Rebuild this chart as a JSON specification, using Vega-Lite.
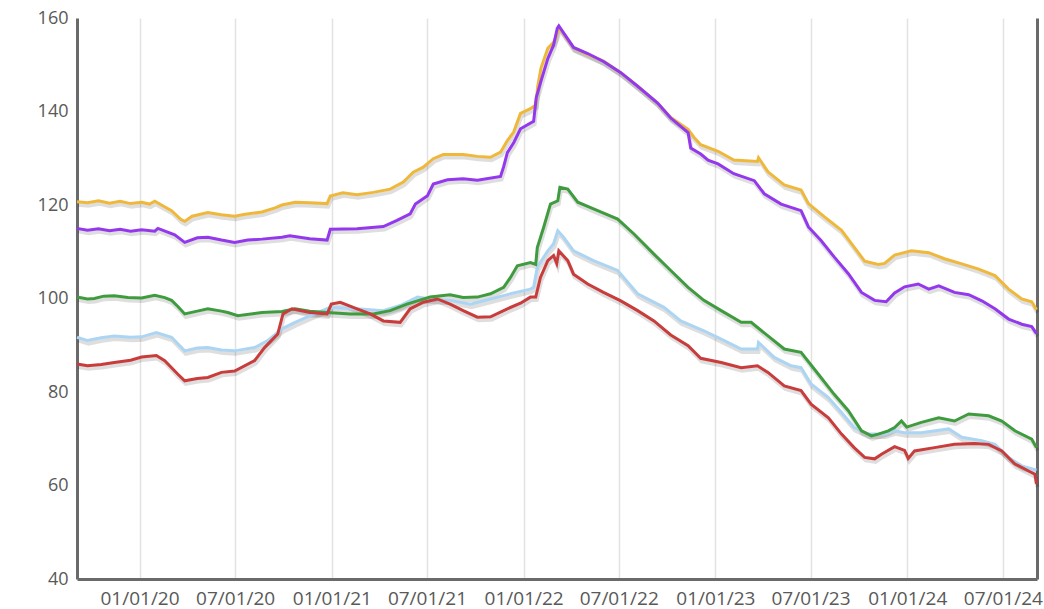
{
  "$schema": "https://vega.github.io/schema/vega-lite/v6.json",
  "width": 960,
  "height": 561,
  "autosize": {"type": "none"},
  "padding": {"left": 77, "top": 18, "right": 7, "bottom": 30},
  "background": "white",
  "config": {
    "view": {"stroke": null},
    "axis": {
      "labelFont": "Open Sans",
      "labelFontSize": 18,
      "labelColor": "#595959",
      "ticks": false,
      "title": null,
      "gridColor": "#e2e2e2",
      "gridWidth": 1.5,
      "domainColor": "#6a6a6a",
      "domainWidth": 3
    }
  },
  "data": {
    "values": [
      {"series": "A", "date": "2019-09-04", "value": 120.7},
      {"series": "A", "date": "2019-09-24", "value": 120.5},
      {"series": "A", "date": "2019-10-15", "value": 120.9},
      {"series": "A", "date": "2019-11-05", "value": 120.4},
      {"series": "A", "date": "2019-11-25", "value": 120.8},
      {"series": "A", "date": "2019-12-15", "value": 120.3},
      {"series": "A", "date": "2020-01-05", "value": 120.6},
      {"series": "A", "date": "2020-01-20", "value": 120.2},
      {"series": "A", "date": "2020-01-30", "value": 120.8},
      {"series": "A", "date": "2020-02-10", "value": 120.1},
      {"series": "A", "date": "2020-03-02", "value": 118.8},
      {"series": "A", "date": "2020-03-20", "value": 116.9},
      {"series": "A", "date": "2020-03-27", "value": 116.5},
      {"series": "A", "date": "2020-04-10", "value": 117.6},
      {"series": "A", "date": "2020-05-10", "value": 118.4},
      {"series": "A", "date": "2020-06-05", "value": 117.9},
      {"series": "A", "date": "2020-06-30", "value": 117.6},
      {"series": "A", "date": "2020-07-20", "value": 118.0},
      {"series": "A", "date": "2020-08-21", "value": 118.5},
      {"series": "A", "date": "2020-09-15", "value": 119.4},
      {"series": "A", "date": "2020-09-28", "value": 120.0},
      {"series": "A", "date": "2020-10-23", "value": 120.6},
      {"series": "A", "date": "2020-11-20", "value": 120.5},
      {"series": "A", "date": "2020-12-23", "value": 120.3},
      {"series": "A", "date": "2020-12-29", "value": 121.9},
      {"series": "A", "date": "2021-01-22", "value": 122.6},
      {"series": "A", "date": "2021-02-18", "value": 122.2},
      {"series": "A", "date": "2021-03-21", "value": 122.7},
      {"series": "A", "date": "2021-04-22", "value": 123.4},
      {"series": "A", "date": "2021-05-17", "value": 124.9},
      {"series": "A", "date": "2021-06-05", "value": 127.0},
      {"series": "A", "date": "2021-06-24", "value": 128.1},
      {"series": "A", "date": "2021-07-13", "value": 129.9},
      {"series": "A", "date": "2021-08-01", "value": 130.8},
      {"series": "A", "date": "2021-09-08", "value": 130.8},
      {"series": "A", "date": "2021-10-05", "value": 130.4},
      {"series": "A", "date": "2021-10-30", "value": 130.2},
      {"series": "A", "date": "2021-11-18", "value": 131.3},
      {"series": "A", "date": "2021-12-01", "value": 133.8},
      {"series": "A", "date": "2021-12-13", "value": 135.6},
      {"series": "A", "date": "2021-12-26", "value": 139.6},
      {"series": "A", "date": "2022-01-14", "value": 140.6},
      {"series": "A", "date": "2022-01-24", "value": 141.4},
      {"series": "A", "date": "2022-01-28", "value": 145.5},
      {"series": "A", "date": "2022-02-03", "value": 149.3},
      {"series": "A", "date": "2022-02-16", "value": 153.5},
      {"series": "A", "date": "2022-02-27", "value": 154.8},
      {"series": "A", "date": "2022-03-04", "value": 156.0},
      {"series": "A", "date": "2022-03-09", "value": 158.1},
      {"series": "A", "date": "2022-04-06", "value": 153.6},
      {"series": "A", "date": "2022-05-03", "value": 152.2},
      {"series": "A", "date": "2022-06-02", "value": 150.8},
      {"series": "A", "date": "2022-07-05", "value": 148.3},
      {"series": "A", "date": "2022-08-06", "value": 145.4},
      {"series": "A", "date": "2022-09-13", "value": 141.8},
      {"series": "A", "date": "2022-10-08", "value": 138.7},
      {"series": "A", "date": "2022-11-10", "value": 136.2},
      {"series": "A", "date": "2022-11-21", "value": 134.5},
      {"series": "A", "date": "2022-12-04", "value": 132.9},
      {"series": "A", "date": "2023-01-06", "value": 131.5},
      {"series": "A", "date": "2023-02-05", "value": 129.6},
      {"series": "A", "date": "2023-03-22", "value": 129.3},
      {"series": "A", "date": "2023-03-24", "value": 130.1},
      {"series": "A", "date": "2023-04-11", "value": 127.1},
      {"series": "A", "date": "2023-05-12", "value": 124.3},
      {"series": "A", "date": "2023-06-13", "value": 123.2},
      {"series": "A", "date": "2023-06-27", "value": 120.3},
      {"series": "A", "date": "2023-07-27", "value": 117.5},
      {"series": "A", "date": "2023-08-29", "value": 114.6},
      {"series": "A", "date": "2023-09-22", "value": 111.0},
      {"series": "A", "date": "2023-10-12", "value": 108.0},
      {"series": "A", "date": "2023-11-07", "value": 107.3},
      {"series": "A", "date": "2023-11-19", "value": 107.5},
      {"series": "A", "date": "2023-12-08", "value": 109.3},
      {"series": "A", "date": "2024-01-09", "value": 110.2},
      {"series": "A", "date": "2024-02-11", "value": 109.8},
      {"series": "A", "date": "2024-03-12", "value": 108.5},
      {"series": "A", "date": "2024-04-14", "value": 107.4},
      {"series": "A", "date": "2024-05-16", "value": 106.3},
      {"series": "A", "date": "2024-06-16", "value": 104.9},
      {"series": "A", "date": "2024-07-12", "value": 102.0},
      {"series": "A", "date": "2024-08-06", "value": 99.9},
      {"series": "A", "date": "2024-08-25", "value": 99.3},
      {"series": "A", "date": "2024-09-03", "value": 97.6},

      {"series": "B", "date": "2019-09-04", "value": 91.7},
      {"series": "B", "date": "2019-09-24", "value": 91.0},
      {"series": "B", "date": "2019-10-20", "value": 91.6},
      {"series": "B", "date": "2019-11-14", "value": 92.0},
      {"series": "B", "date": "2019-12-15", "value": 91.7},
      {"series": "B", "date": "2020-01-05", "value": 91.8},
      {"series": "B", "date": "2020-02-02", "value": 92.7},
      {"series": "B", "date": "2020-03-02", "value": 91.7},
      {"series": "B", "date": "2020-03-27", "value": 88.8},
      {"series": "B", "date": "2020-04-20", "value": 89.4},
      {"series": "B", "date": "2020-05-10", "value": 89.5},
      {"series": "B", "date": "2020-06-05", "value": 89.0},
      {"series": "B", "date": "2020-06-30", "value": 88.8},
      {"series": "B", "date": "2020-08-07", "value": 89.5},
      {"series": "B", "date": "2020-09-01", "value": 91.0},
      {"series": "B", "date": "2020-09-28", "value": 93.5},
      {"series": "B", "date": "2020-10-23", "value": 94.9},
      {"series": "B", "date": "2020-11-20", "value": 96.3},
      {"series": "B", "date": "2020-12-29", "value": 98.1},
      {"series": "B", "date": "2021-02-18", "value": 97.8},
      {"series": "B", "date": "2021-04-09", "value": 97.4},
      {"series": "B", "date": "2021-05-11", "value": 98.5},
      {"series": "B", "date": "2021-06-13", "value": 100.3},
      {"series": "B", "date": "2021-07-07", "value": 99.9},
      {"series": "B", "date": "2021-08-14", "value": 99.6},
      {"series": "B", "date": "2021-09-22", "value": 98.8},
      {"series": "B", "date": "2021-10-30", "value": 99.9},
      {"series": "B", "date": "2021-12-07", "value": 101.0},
      {"series": "B", "date": "2022-01-14", "value": 102.0},
      {"series": "B", "date": "2022-01-20", "value": 102.4},
      {"series": "B", "date": "2022-01-27", "value": 106.7},
      {"series": "B", "date": "2022-02-16", "value": 110.2},
      {"series": "B", "date": "2022-02-27", "value": 111.7},
      {"series": "B", "date": "2022-03-07", "value": 114.5},
      {"series": "B", "date": "2022-03-18", "value": 113.1},
      {"series": "B", "date": "2022-04-06", "value": 110.2},
      {"series": "B", "date": "2022-05-14", "value": 108.1},
      {"series": "B", "date": "2022-06-29", "value": 106.0},
      {"series": "B", "date": "2022-08-06", "value": 101.0},
      {"series": "B", "date": "2022-09-25", "value": 98.1},
      {"series": "B", "date": "2022-10-27", "value": 95.2},
      {"series": "B", "date": "2022-12-10", "value": 93.1},
      {"series": "B", "date": "2023-01-12", "value": 91.3},
      {"series": "B", "date": "2023-02-19", "value": 89.2},
      {"series": "B", "date": "2023-03-22", "value": 89.2},
      {"series": "B", "date": "2023-03-24", "value": 90.6},
      {"series": "B", "date": "2023-04-23", "value": 87.4},
      {"series": "B", "date": "2023-05-25", "value": 85.6},
      {"series": "B", "date": "2023-06-13", "value": 85.2},
      {"series": "B", "date": "2023-07-02", "value": 81.7},
      {"series": "B", "date": "2023-08-04", "value": 78.8},
      {"series": "B", "date": "2023-08-29", "value": 75.6},
      {"series": "B", "date": "2023-09-22", "value": 72.4},
      {"series": "B", "date": "2023-10-19", "value": 71.0},
      {"series": "B", "date": "2023-11-19", "value": 71.0},
      {"series": "B", "date": "2023-12-08", "value": 71.7},
      {"series": "B", "date": "2023-12-27", "value": 71.3},
      {"series": "B", "date": "2024-01-28", "value": 71.3},
      {"series": "B", "date": "2024-03-20", "value": 72.1},
      {"series": "B", "date": "2024-04-14", "value": 70.3},
      {"series": "B", "date": "2024-05-22", "value": 69.6},
      {"series": "B", "date": "2024-06-16", "value": 68.8},
      {"series": "B", "date": "2024-07-12", "value": 66.0},
      {"series": "B", "date": "2024-08-06", "value": 64.2},
      {"series": "B", "date": "2024-09-03", "value": 63.3},

      {"series": "C", "date": "2019-09-04", "value": 100.3},
      {"series": "C", "date": "2019-09-24", "value": 99.9},
      {"series": "C", "date": "2019-10-07", "value": 100.0},
      {"series": "C", "date": "2019-10-25", "value": 100.5},
      {"series": "C", "date": "2019-11-14", "value": 100.6},
      {"series": "C", "date": "2019-12-10", "value": 100.2},
      {"series": "C", "date": "2020-01-05", "value": 100.1},
      {"series": "C", "date": "2020-01-30", "value": 100.7},
      {"series": "C", "date": "2020-02-18", "value": 100.2},
      {"series": "C", "date": "2020-03-02", "value": 99.6},
      {"series": "C", "date": "2020-03-14", "value": 98.3},
      {"series": "C", "date": "2020-03-27", "value": 96.7},
      {"series": "C", "date": "2020-04-20", "value": 97.3},
      {"series": "C", "date": "2020-05-10", "value": 97.8},
      {"series": "C", "date": "2020-06-05", "value": 97.3},
      {"series": "C", "date": "2020-06-17", "value": 97.0},
      {"series": "C", "date": "2020-07-06", "value": 96.3},
      {"series": "C", "date": "2020-08-07", "value": 96.8},
      {"series": "C", "date": "2020-08-21", "value": 97.0},
      {"series": "C", "date": "2020-09-28", "value": 97.2},
      {"series": "C", "date": "2020-10-23", "value": 97.8},
      {"series": "C", "date": "2020-11-20", "value": 97.3},
      {"series": "C", "date": "2020-12-23", "value": 97.0},
      {"series": "C", "date": "2021-02-05", "value": 96.7},
      {"series": "C", "date": "2021-03-21", "value": 96.7},
      {"series": "C", "date": "2021-04-22", "value": 97.4},
      {"series": "C", "date": "2021-05-24", "value": 98.8},
      {"series": "C", "date": "2021-07-07", "value": 100.3},
      {"series": "C", "date": "2021-08-14", "value": 100.8},
      {"series": "C", "date": "2021-09-08", "value": 100.2},
      {"series": "C", "date": "2021-10-05", "value": 100.3},
      {"series": "C", "date": "2021-10-30", "value": 101.0},
      {"series": "C", "date": "2021-11-24", "value": 102.4},
      {"series": "C", "date": "2021-12-07", "value": 104.5},
      {"series": "C", "date": "2021-12-20", "value": 107.0},
      {"series": "C", "date": "2022-01-14", "value": 107.7},
      {"series": "C", "date": "2022-01-24", "value": 107.3},
      {"series": "C", "date": "2022-01-27", "value": 110.9},
      {"series": "C", "date": "2022-02-08", "value": 115.2},
      {"series": "C", "date": "2022-02-21", "value": 120.2},
      {"series": "C", "date": "2022-03-07", "value": 120.9},
      {"series": "C", "date": "2022-03-11", "value": 123.8},
      {"series": "C", "date": "2022-03-26", "value": 123.4},
      {"series": "C", "date": "2022-04-14", "value": 120.6},
      {"series": "C", "date": "2022-05-22", "value": 118.8},
      {"series": "C", "date": "2022-06-29", "value": 117.0},
      {"series": "C", "date": "2022-07-30", "value": 113.8},
      {"series": "C", "date": "2022-09-06", "value": 109.5},
      {"series": "C", "date": "2022-10-08", "value": 106.0},
      {"series": "C", "date": "2022-11-10", "value": 102.4},
      {"series": "C", "date": "2022-12-10", "value": 99.6},
      {"series": "C", "date": "2023-01-12", "value": 97.4},
      {"series": "C", "date": "2023-02-19", "value": 94.9},
      {"series": "C", "date": "2023-03-10", "value": 94.9},
      {"series": "C", "date": "2023-04-11", "value": 92.0},
      {"series": "C", "date": "2023-05-12", "value": 89.2},
      {"series": "C", "date": "2023-06-13", "value": 88.5},
      {"series": "C", "date": "2023-07-16", "value": 83.8},
      {"series": "C", "date": "2023-08-15", "value": 79.5},
      {"series": "C", "date": "2023-09-11", "value": 76.0},
      {"series": "C", "date": "2023-10-06", "value": 71.7},
      {"series": "C", "date": "2023-10-25", "value": 70.6},
      {"series": "C", "date": "2023-11-07", "value": 71.0},
      {"series": "C", "date": "2023-11-26", "value": 71.7},
      {"series": "C", "date": "2023-12-08", "value": 72.4},
      {"series": "C", "date": "2023-12-21", "value": 73.8},
      {"series": "C", "date": "2023-12-31", "value": 72.5},
      {"series": "C", "date": "2024-01-28", "value": 73.5},
      {"series": "C", "date": "2024-03-01", "value": 74.5},
      {"series": "C", "date": "2024-03-31", "value": 73.8},
      {"series": "C", "date": "2024-04-27", "value": 75.3},
      {"series": "C", "date": "2024-06-04", "value": 74.9},
      {"series": "C", "date": "2024-06-29", "value": 73.8},
      {"series": "C", "date": "2024-07-24", "value": 71.7},
      {"series": "C", "date": "2024-08-25", "value": 69.9},
      {"series": "C", "date": "2024-09-03", "value": 68.1},

      {"series": "D", "date": "2019-09-04", "value": 86.0},
      {"series": "D", "date": "2019-09-24", "value": 85.6},
      {"series": "D", "date": "2019-10-20", "value": 85.9},
      {"series": "D", "date": "2019-11-14", "value": 86.3},
      {"series": "D", "date": "2019-12-15", "value": 86.8},
      {"series": "D", "date": "2020-01-05", "value": 87.5},
      {"series": "D", "date": "2020-02-02", "value": 87.8},
      {"series": "D", "date": "2020-02-18", "value": 86.7},
      {"series": "D", "date": "2020-03-14", "value": 83.8},
      {"series": "D", "date": "2020-03-27", "value": 82.4},
      {"series": "D", "date": "2020-04-20", "value": 82.9},
      {"series": "D", "date": "2020-05-10", "value": 83.1},
      {"series": "D", "date": "2020-06-05", "value": 84.2},
      {"series": "D", "date": "2020-06-30", "value": 84.5},
      {"series": "D", "date": "2020-08-07", "value": 86.7},
      {"series": "D", "date": "2020-08-26", "value": 89.5},
      {"series": "D", "date": "2020-09-20", "value": 92.4},
      {"series": "D", "date": "2020-09-30", "value": 96.7},
      {"series": "D", "date": "2020-10-17", "value": 97.8},
      {"series": "D", "date": "2020-11-20", "value": 97.0},
      {"series": "D", "date": "2020-12-23", "value": 96.7},
      {"series": "D", "date": "2020-12-31", "value": 98.8},
      {"series": "D", "date": "2021-01-17", "value": 99.2},
      {"series": "D", "date": "2021-02-18", "value": 97.8},
      {"series": "D", "date": "2021-03-15", "value": 96.7},
      {"series": "D", "date": "2021-04-09", "value": 95.2},
      {"series": "D", "date": "2021-05-11", "value": 94.9},
      {"series": "D", "date": "2021-05-30", "value": 97.8},
      {"series": "D", "date": "2021-06-24", "value": 99.2},
      {"series": "D", "date": "2021-07-21", "value": 99.9},
      {"series": "D", "date": "2021-08-14", "value": 98.8},
      {"series": "D", "date": "2021-09-08", "value": 97.4},
      {"series": "D", "date": "2021-10-05", "value": 96.0},
      {"series": "D", "date": "2021-10-30", "value": 96.1},
      {"series": "D", "date": "2021-12-01", "value": 97.8},
      {"series": "D", "date": "2021-12-26", "value": 99.0},
      {"series": "D", "date": "2022-01-14", "value": 100.3},
      {"series": "D", "date": "2022-01-24", "value": 100.3},
      {"series": "D", "date": "2022-02-02", "value": 104.5},
      {"series": "D", "date": "2022-02-16", "value": 108.1},
      {"series": "D", "date": "2022-02-27", "value": 109.2},
      {"series": "D", "date": "2022-03-05", "value": 107.5},
      {"series": "D", "date": "2022-03-09", "value": 110.2},
      {"series": "D", "date": "2022-03-26", "value": 108.1},
      {"series": "D", "date": "2022-04-06", "value": 105.2},
      {"series": "D", "date": "2022-05-03", "value": 103.1},
      {"series": "D", "date": "2022-06-02", "value": 101.3},
      {"series": "D", "date": "2022-07-05", "value": 99.5},
      {"series": "D", "date": "2022-08-06", "value": 97.4},
      {"series": "D", "date": "2022-09-06", "value": 95.2},
      {"series": "D", "date": "2022-10-08", "value": 92.2},
      {"series": "D", "date": "2022-11-10", "value": 89.9},
      {"series": "D", "date": "2022-12-04", "value": 87.2},
      {"series": "D", "date": "2023-01-12", "value": 86.3},
      {"series": "D", "date": "2023-02-19", "value": 85.2},
      {"series": "D", "date": "2023-03-22", "value": 85.6},
      {"series": "D", "date": "2023-04-11", "value": 84.2},
      {"series": "D", "date": "2023-05-12", "value": 81.3},
      {"series": "D", "date": "2023-06-13", "value": 80.3},
      {"series": "D", "date": "2023-07-02", "value": 77.4},
      {"series": "D", "date": "2023-08-04", "value": 74.5},
      {"series": "D", "date": "2023-08-29", "value": 71.0},
      {"series": "D", "date": "2023-09-22", "value": 68.1},
      {"series": "D", "date": "2023-10-12", "value": 66.0},
      {"series": "D", "date": "2023-10-31", "value": 65.7},
      {"series": "D", "date": "2023-11-13", "value": 66.7},
      {"series": "D", "date": "2023-12-08", "value": 68.3},
      {"series": "D", "date": "2023-12-27", "value": 67.5},
      {"series": "D", "date": "2024-01-03", "value": 65.8},
      {"series": "D", "date": "2024-01-15", "value": 67.4},
      {"series": "D", "date": "2024-02-22", "value": 68.1},
      {"series": "D", "date": "2024-03-31", "value": 68.8},
      {"series": "D", "date": "2024-05-08", "value": 69.0},
      {"series": "D", "date": "2024-06-04", "value": 68.8},
      {"series": "D", "date": "2024-06-29", "value": 67.4},
      {"series": "D", "date": "2024-07-24", "value": 64.6},
      {"series": "D", "date": "2024-08-19", "value": 63.1},
      {"series": "D", "date": "2024-08-31", "value": 62.4},
      {"series": "D", "date": "2024-09-03", "value": 60.3},

      {"series": "E", "date": "2019-09-04", "value": 115.0},
      {"series": "E", "date": "2019-09-24", "value": 114.6},
      {"series": "E", "date": "2019-10-15", "value": 114.9},
      {"series": "E", "date": "2019-11-05", "value": 114.5},
      {"series": "E", "date": "2019-11-25", "value": 114.8},
      {"series": "E", "date": "2019-12-15", "value": 114.4},
      {"series": "E", "date": "2020-01-05", "value": 114.7},
      {"series": "E", "date": "2020-01-30", "value": 114.4},
      {"series": "E", "date": "2020-02-05", "value": 115.0},
      {"series": "E", "date": "2020-03-08", "value": 113.6},
      {"series": "E", "date": "2020-03-27", "value": 112.0},
      {"series": "E", "date": "2020-04-20", "value": 113.0},
      {"series": "E", "date": "2020-05-10", "value": 113.1},
      {"series": "E", "date": "2020-06-05", "value": 112.5},
      {"series": "E", "date": "2020-06-30", "value": 112.0},
      {"series": "E", "date": "2020-07-25", "value": 112.5},
      {"series": "E", "date": "2020-08-21", "value": 112.7},
      {"series": "E", "date": "2020-09-28", "value": 113.1},
      {"series": "E", "date": "2020-10-13", "value": 113.4},
      {"series": "E", "date": "2020-11-20", "value": 112.8},
      {"series": "E", "date": "2020-12-23", "value": 112.5},
      {"series": "E", "date": "2020-12-29", "value": 114.8},
      {"series": "E", "date": "2021-02-18", "value": 114.9},
      {"series": "E", "date": "2021-04-09", "value": 115.4},
      {"series": "E", "date": "2021-05-05", "value": 116.7},
      {"series": "E", "date": "2021-05-30", "value": 118.1},
      {"series": "E", "date": "2021-06-09", "value": 120.2},
      {"series": "E", "date": "2021-07-02", "value": 122.0},
      {"series": "E", "date": "2021-07-13", "value": 124.5},
      {"series": "E", "date": "2021-08-09", "value": 125.4},
      {"series": "E", "date": "2021-09-08", "value": 125.6},
      {"series": "E", "date": "2021-10-05", "value": 125.3},
      {"series": "E", "date": "2021-11-18", "value": 126.1},
      {"series": "E", "date": "2021-11-24", "value": 128.2},
      {"series": "E", "date": "2021-12-01", "value": 131.2},
      {"series": "E", "date": "2021-12-13", "value": 133.3},
      {"series": "E", "date": "2021-12-26", "value": 136.3},
      {"series": "E", "date": "2022-01-20", "value": 137.9},
      {"series": "E", "date": "2022-01-25", "value": 143.0},
      {"series": "E", "date": "2022-02-03", "value": 146.5},
      {"series": "E", "date": "2022-02-16", "value": 151.3},
      {"series": "E", "date": "2022-02-27", "value": 154.2},
      {"series": "E", "date": "2022-03-06", "value": 157.8},
      {"series": "E", "date": "2022-03-09", "value": 158.3},
      {"series": "E", "date": "2022-04-06", "value": 153.7},
      {"series": "E", "date": "2022-05-03", "value": 152.4},
      {"series": "E", "date": "2022-06-02", "value": 150.7},
      {"series": "E", "date": "2022-07-05", "value": 148.3},
      {"series": "E", "date": "2022-08-06", "value": 145.4},
      {"series": "E", "date": "2022-09-13", "value": 141.8},
      {"series": "E", "date": "2022-10-08", "value": 138.6},
      {"series": "E", "date": "2022-11-10", "value": 135.5},
      {"series": "E", "date": "2022-11-15", "value": 132.2},
      {"series": "E", "date": "2022-12-04", "value": 130.9},
      {"series": "E", "date": "2022-12-18", "value": 129.6},
      {"series": "E", "date": "2023-01-06", "value": 128.8},
      {"series": "E", "date": "2023-02-05", "value": 126.7},
      {"series": "E", "date": "2023-03-16", "value": 125.2},
      {"series": "E", "date": "2023-04-04", "value": 122.4},
      {"series": "E", "date": "2023-05-06", "value": 120.2},
      {"series": "E", "date": "2023-06-13", "value": 118.8},
      {"series": "E", "date": "2023-06-27", "value": 115.3},
      {"series": "E", "date": "2023-07-21", "value": 112.4},
      {"series": "E", "date": "2023-08-15", "value": 108.9},
      {"series": "E", "date": "2023-09-11", "value": 105.3},
      {"series": "E", "date": "2023-10-06", "value": 101.3},
      {"series": "E", "date": "2023-10-31", "value": 99.6},
      {"series": "E", "date": "2023-11-22", "value": 99.3},
      {"series": "E", "date": "2023-12-08", "value": 101.2},
      {"series": "E", "date": "2023-12-27", "value": 102.5},
      {"series": "E", "date": "2024-01-22", "value": 103.1},
      {"series": "E", "date": "2024-02-11", "value": 102.0},
      {"series": "E", "date": "2024-03-01", "value": 102.7},
      {"series": "E", "date": "2024-03-31", "value": 101.3},
      {"series": "E", "date": "2024-04-27", "value": 100.8},
      {"series": "E", "date": "2024-05-22", "value": 99.5},
      {"series": "E", "date": "2024-06-16", "value": 97.8},
      {"series": "E", "date": "2024-07-12", "value": 95.6},
      {"series": "E", "date": "2024-08-06", "value": 94.5},
      {"series": "E", "date": "2024-08-25", "value": 94.0},
      {"series": "E", "date": "2024-09-03", "value": 92.5}
    ]
  },
  "encoding": {
    "x": {
      "field": "date",
      "type": "temporal",
      "scale": {
        "type": "utc",
        "domain": [
          {"year": 2019, "month": 9, "date": 4, "utc": true},
          {"year": 2024, "month": 9, "date": 4, "utc": true}
        ]
      },
      "axis": {
        "values": [
          {"year": 2020, "month": 1, "date": 1, "utc": true},
          {"year": 2020, "month": 7, "date": 1, "utc": true},
          {"year": 2021, "month": 1, "date": 1, "utc": true},
          {"year": 2021, "month": 7, "date": 1, "utc": true},
          {"year": 2022, "month": 1, "date": 1, "utc": true},
          {"year": 2022, "month": 7, "date": 1, "utc": true},
          {"year": 2023, "month": 1, "date": 1, "utc": true},
          {"year": 2023, "month": 7, "date": 1, "utc": true},
          {"year": 2024, "month": 1, "date": 1, "utc": true},
          {"year": 2024, "month": 7, "date": 1, "utc": true}
        ],
        "labelExpr": "utcFormat(datum.value, '%m/%d/%y')",
        "labelFontSize": 19,
        "labelPadding": 10,
        "labelFlush": false,
        "labelOverlap": false
      }
    }
  },
  "layer": [
    {
      "mark": {"type": "line", "color": "#000000", "opacity": 0.13, "strokeWidth": 4, "xOffset": 1, "yOffset": 3},
      "encoding": {
        "y": {
          "field": "value",
          "type": "quantitative",
          "scale": {"domain": [40, 160], "nice": false, "zero": false},
          "axis": {"orient": "right", "labels": false, "grid": false, "values": [40, 160]}
        },
        "detail": {"field": "series", "type": "nominal"}
      }
    },
    {
      "mark": {"type": "line", "strokeWidth": 3},
      "encoding": {
        "y": {
          "field": "value",
          "type": "quantitative",
          "scale": {"domain": [40, 160], "nice": false, "zero": false},
          "axis": {"orient": "left", "values": [40, 60, 80, 100, 120, 140, 160], "labelPadding": 9}
        },
        "color": {
          "field": "series",
          "type": "nominal",
          "scale": {
            "domain": ["A", "B", "C", "D", "E"],
            "range": ["#efb83b", "#acd5f4", "#3e9c3e", "#c83c3c", "#9438ee"]
          },
          "legend": null
        }
      }
    }
  ],
  "resolve": {"axis": {"y": "independent"}}
}
